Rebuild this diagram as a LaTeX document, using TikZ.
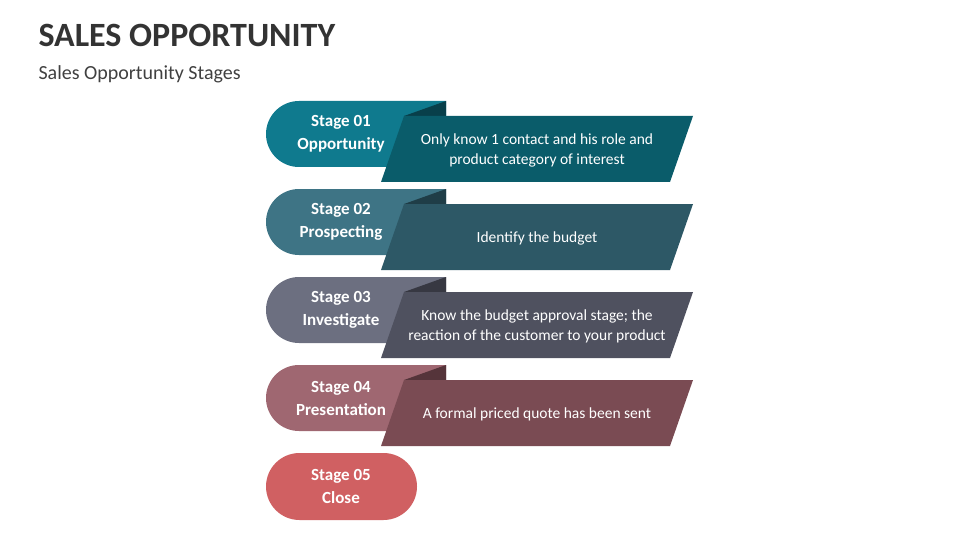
\documentclass[tikz,border=0pt]{standalone}
\usepackage{fontspec}
\setmainfont{Carlito}
\definecolor{p1}{HTML}{0F7A8E}\definecolor{q1}{HTML}{0A5C6A}\definecolor{f1}{HTML}{083F4A}
\definecolor{p2}{HTML}{3E7485}\definecolor{q2}{HTML}{2D5866}\definecolor{f2}{HTML}{1F3D47}
\definecolor{p3}{HTML}{6C6F80}\definecolor{q3}{HTML}{4F515F}\definecolor{f3}{HTML}{373842}
\definecolor{p4}{HTML}{9F6771}\definecolor{q4}{HTML}{7A4B53}\definecolor{f4}{HTML}{55343A}
\definecolor{p5}{HTML}{D06062}
\tikzset{lab/.style={text=white,font=\bfseries\fontsize{17}{23}\selectfont,align=center},
desc/.style={text=white,font=\fontsize{15.5}{20}\selectfont,align=center}}
\begin{document}
\begin{tikzpicture}[x=1pt,y=-1pt]
\useasboundingbox (0,0) rectangle (960,540);
\node[anchor=west,font=\bfseries\fontsize{34}{40}\selectfont,text=black!80] (t) at (35,35) {SALES OPPORTUNITY};
\node[anchor=west,font=\fontsize{20}{24}\selectfont,text=black!75] (s) at (35,74) {Sales Opportunity Stages};
\foreach \i/\a/\b/\d in {1/Opportunity/{Only know 1 contact and his role and\\product category of interest}/0,
2/Prospecting/{Identify the budget}/0,
3/Investigate/{Know the budget approval stage; the\\reaction of the customer to your product}/0,
4/Presentation/{A formal priced quote has been sent}/0}{
\pgfmathsetmacro\y{101+88*(\i-1)}
\fill[p\i] (446,\y) [rounded corners=33]-- (266,\y) -- (266,\y+66) [sharp corners]-- (446,\y+66) -- cycle;
\fill[f\i] (404,\y+15) -- (446,\y) -- (446,\y+15) -- cycle;
\fill[q\i] (404,\y+15) -- (693,\y+15) -- (670,\y+81) -- (381,\y+81) -- cycle;
\node[lab] (l\i) at (341,\y+33) {Stage 0\i\\\a};
\node[desc] (d\i) at (537,\y+49) {\b};
}
\fill[p5,rounded corners=33.5] (266,453) rectangle (417,520);
\node[lab] (l5) at (341,486) {Stage 05\\Close};
\end{tikzpicture}
\end{document}
